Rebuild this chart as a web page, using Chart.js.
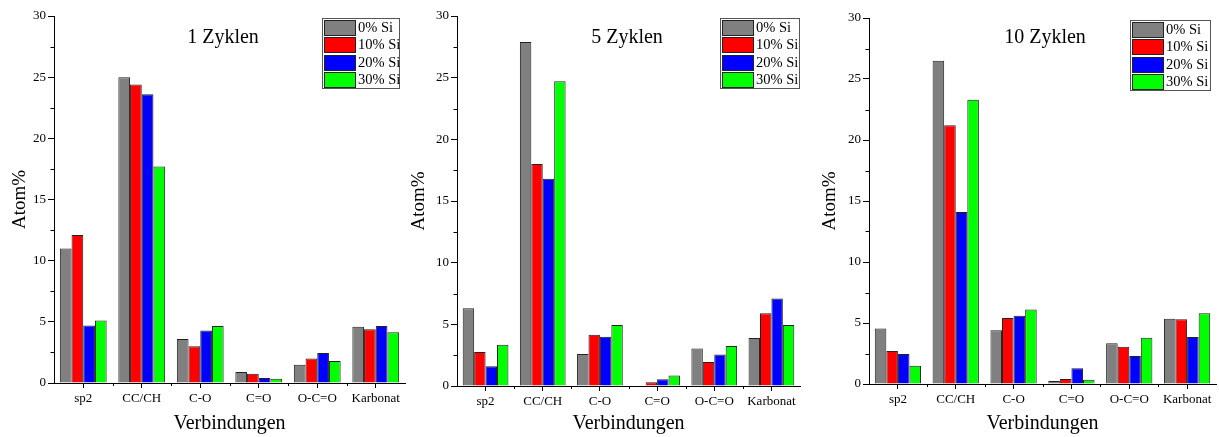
<!DOCTYPE html>
<html><head><meta charset="utf-8">
<script src="https://cdn.jsdelivr.net/npm/chart.js@4.4.1/dist/chart.umd.min.js"></script>
<style>
html,body{margin:0;padding:0;background:#fff;overflow:hidden}
#wrap{position:relative;width:1219px;height:437px;background:#fff}
canvas{position:absolute;top:0}
</style></head><body>
<div id="wrap">
<canvas id="c1" width="406" height="437" style="left:0px"></canvas>
<canvas id="c2" width="406" height="437" style="left:406px"></canvas>
<canvas id="c3" width="407" height="437" style="left:812px"></canvas>
</div>
<script>
// ---- data ----
const categories = ['sp2', 'CC/CH', 'C-O', 'C=O', 'O-C=O', 'Karbonat'];
const seriesLabels = ['0% Si', '10% Si', '20% Si', '30% Si'];
const seriesColors = ['#808080', '#ff0000', '#0000ff', '#00ff00'];
const panelTitles = ['1 Zyklen', '5 Zyklen', '10 Zyklen'];
const yAxisTitle = 'Atom%';
const xAxisTitle = 'Verbindungen';
const yMajorTicks = [0, 5, 10, 15, 20, 25, 30];
const yMinorTicks = [2.5, 7.5, 12.5, 17.5, 22.5, 27.5];

// 1 Zyklen
const cyc1_si0  = [11.0, 25.0, 3.6, 0.9, 1.5, 4.6];
const cyc1_si10 = [12.1, 24.4, 3.0, 0.75, 2.0, 4.4];
const cyc1_si20 = [4.7, 23.6, 4.3, 0.4, 2.45, 4.65];
const cyc1_si30 = [5.1, 17.7, 4.65, 0.35, 1.8, 4.15];
// 5 Zyklen
const cyc5_si0  = [6.3, 27.9, 2.6, 0.05, 3.05, 3.9];
const cyc5_si10 = [2.75, 18.0, 4.15, 0.3, 1.95, 5.9];
const cyc5_si20 = [1.6, 16.8, 4.0, 0.55, 2.55, 7.1];
const cyc5_si30 = [3.35, 24.7, 4.95, 0.85, 3.25, 4.95];
// 10 Zyklen
const cyc10_si0  = [4.55, 26.5, 4.4, 0.25, 3.35, 5.35];
const cyc10_si10 = [2.7, 21.2, 5.4, 0.4, 3.05, 5.3];
const cyc10_si20 = [2.45, 14.1, 5.6, 1.3, 2.3, 3.85];
const cyc10_si30 = [1.5, 23.3, 6.1, 0.35, 3.8, 5.8];

const FONT = "'Liberation Serif','Times New Roman',serif";

const overlay = {
  id: 'overlay',
  afterDraw(chart, args, opts) {
    const ctx = chart.ctx, xs = chart.scales.x, ys = chart.scales.y, area = chart.chartArea;
    ctx.save();
    ctx.strokeStyle = '#000'; ctx.lineWidth = 1;
    ctx.beginPath();
    for (let i = 0; i < categories.length - 1; i++) {
      const px = Math.round((xs.getPixelForTick(i) + xs.getPixelForTick(i + 1)) / 2) + 0.5;
      ctx.moveTo(px, area.bottom); ctx.lineTo(px, area.bottom + 3);
    }
    for (const v of yMinorTicks) {
      const py = Math.round(ys.getPixelForValue(v)) + 0.5;
      ctx.moveTo(area.left, py); ctx.lineTo(area.left - 3.5, py);
    }
    ctx.stroke();
    // panel title
    ctx.fillStyle = '#000';
    ctx.font = '20px ' + FONT; ctx.textAlign = 'center'; ctx.textBaseline = 'middle';
    ctx.fillText(opts.title, opts.titleX, opts.titleY);
    // legend box
    const L = opts.legend;
    ctx.fillStyle = '#fff'; ctx.fillRect(L.x, L.y, L.w, L.h);
    ctx.strokeStyle = '#555'; ctx.strokeRect(L.x + 0.5, L.y + 0.5, L.w, L.h);
    chart.data.datasets.forEach((ds, i) => {
      const ry = L.y + 2 + Math.round(i * 17.3);
      ctx.fillStyle = ds.backgroundColor; ctx.fillRect(L.x + 2, ry, 31, 15);
      ctx.strokeStyle = '#222'; ctx.strokeRect(L.x + 2.5, ry + 0.5, 31, 15);
      ctx.fillStyle = '#000'; ctx.font = '14.5px ' + FONT;
      ctx.textAlign = 'left'; ctx.textBaseline = 'middle';
      ctx.fillText(ds.label, L.x + 36, ry + 8.5);
    });
    ctx.restore();
  }
};

function makeChart(id, series, cfg) {
  new Chart(document.getElementById(id), {
    type: 'bar',
    data: {
      labels: categories,
      datasets: series.map((d, i) => ({
        label: seriesLabels[i], data: d,
        backgroundColor: seriesColors[i], borderColor: '#222', borderWidth: 1,
        categoryPercentage: 0.8, barPercentage: 1.0
      }))
    },
    options: {
      responsive: false, animation: false, devicePixelRatio: 1,
      layout: { padding: { left: 0, top: cfg.top, right: cfg.right, bottom: 0 } },
      plugins: {
        legend: { display: false }, tooltip: { enabled: false },
        overlay: { title: cfg.title, titleX: cfg.titleX, titleY: 38, legend: cfg.legend }
      },
      scales: {
        x: {
          grid: { display: true, drawOnChartArea: false, drawTicks: true, tickLength: 5, color: '#000', offset: false },
          border: { display: true, color: '#000', width: 1 },
          ticks: { color: '#000', font: { family: FONT, size: 13 }, padding: 3, autoSkip: false, maxRotation: 0 },
          title: { display: true, text: xAxisTitle, color: '#000', font: { family: FONT, size: 20 }, padding: { top: 0, bottom: 1 } },
          afterFit(s) { s.height = cfg.xh; }
        },
        y: {
          min: 0, max: 30,
          afterBuildTicks(s) { s.ticks = yMajorTicks.map(v => ({ value: v })); },
          ticks: { color: '#000', font: { family: FONT, size: 13 }, padding: 2 },
          grid: { display: true, drawOnChartArea: false, drawTicks: true, tickLength: 6, color: '#000' },
          border: { display: true, color: '#000', width: 1 },
          title: { display: true, text: yAxisTitle, color: '#000', font: { family: FONT, size: 19 }, padding: { top: cfg.ytp, bottom: 0 } },
          afterFit(s) { s.width = cfg.yw; }
        }
      }
    },
    plugins: [overlay]
  });
}

makeChart('c1', [cyc1_si0, cyc1_si10, cyc1_si20, cyc1_si30],
  { top: 16, right: 1, xh: 54, yw: 54, ytp: 8.6, title: panelTitles[0], titleX: 223,
    legend: { x: 322, y: 18, w: 77, h: 70 } });
makeChart('c2', [cyc5_si0, cyc5_si10, cyc5_si20, cyc5_si30],
  { top: 16, right: 12, xh: 51, yw: 51, ytp: 1.6, title: panelTitles[1], titleX: 221,
    legend: { x: 314, y: 18, w: 79, h: 70 } });
makeChart('c3', [cyc10_si0, cyc10_si10, cyc10_si20, cyc10_si30],
  { top: 18, right: 3, xh: 53, yw: 57, ytp: 6.6, title: panelTitles[2], titleX: 233,
    legend: { x: 318, y: 20, w: 80, h: 70 } });
</script>
</body></html>
